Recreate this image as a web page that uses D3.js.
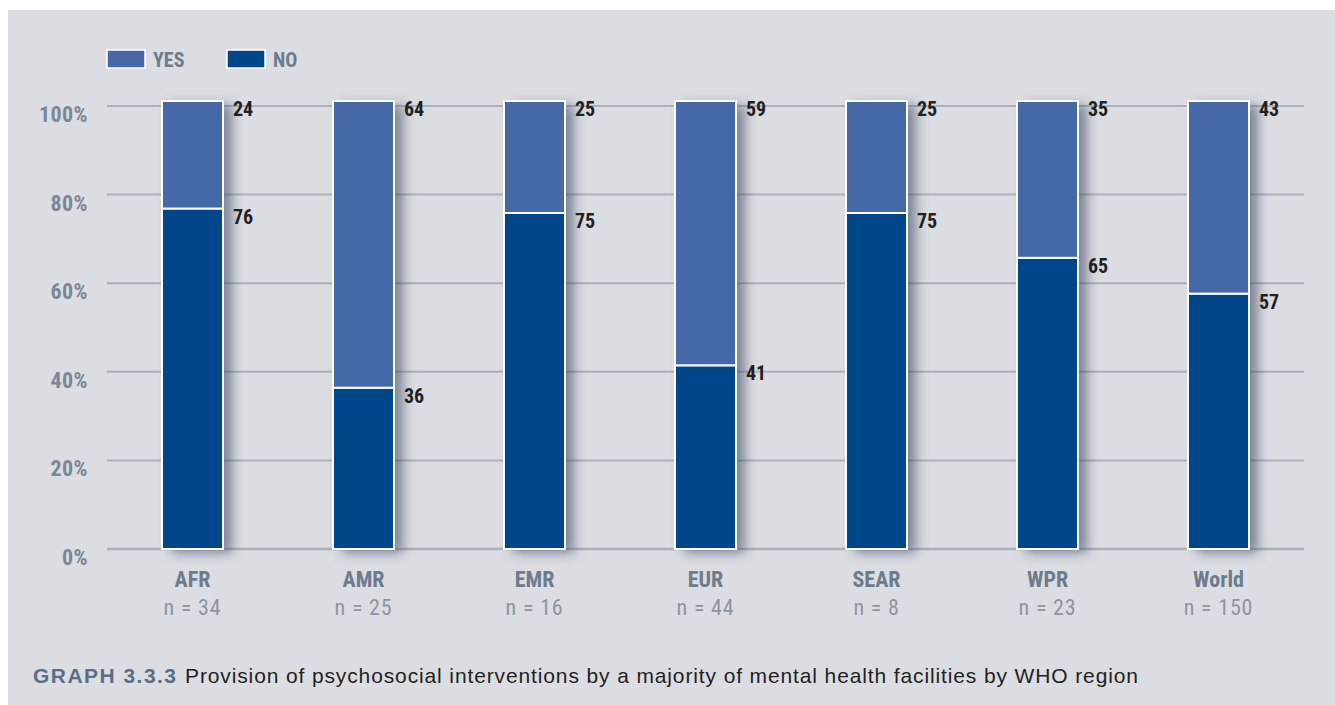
<!DOCTYPE html>
<html><head><meta charset="utf-8">
<script src="https://cdn.jsdelivr.net/npm/d3@7"></script>
<style>
html,body{margin:0;padding:0;background:#fff;}
svg{display:block;}
</style></head>
<body>
<svg id="chart" width="1335" height="705"></svg>
<script>
const categories = ["AFR","AMR","EMR","EUR","SEAR","WPR","World"];
const sampleSizes = ["n = 34","n = 25","n = 16","n = 44","n = 8","n = 23","n = 150"];
const noValues  = [76, 36, 75, 41, 75, 65, 57];
const yesValues = [24, 64, 25, 59, 25, 35, 43];
const seriesNames = ["YES","NO"];
const yTicks = [0,20,40,60,80,100];

const colors = {YES:"#4469a6", NO:"#00468b"};
const condensed = "'Liberation Sans Narrow','Roboto Condensed','Arial Narrow',sans-serif";
const svg = d3.select("#chart");

// panel
svg.append("rect").attr("x",8).attr("y",10).attr("width",1327).attr("height",695).attr("fill","#dcdde2");

const defs = svg.append("defs");
const f = defs.append("filter").attr("id","shadow").attr("x","-40%").attr("y","-10%").attr("width","200%").attr("height","130%");
f.append("feGaussianBlur").attr("in","SourceAlpha").attr("stdDeviation",6).attr("result","blur");
f.append("feOffset").attr("in","blur").attr("dx",9).attr("dy",4).attr("result","off");
f.append("feFlood").attr("flood-color","#2e3a58").attr("flood-opacity",0.55).attr("result","col");
f.append("feComposite").attr("in","col").attr("in2","off").attr("operator","in");

const x = d3.scaleBand().domain(categories).range([107,1304]).paddingInner(0.643).paddingOuter(0.3215);
const yAxisScale = d3.scaleLinear().domain([0,100]).range([549,106]);
const yBar = d3.scaleLinear().domain([0,100]).range([549,101]);

// gridlines
svg.append("g").selectAll("line").data(yTicks).join("line")
  .attr("x1",107).attr("x2",1304)
  .attr("y1",d=>yAxisScale(d)).attr("y2",d=>yAxisScale(d))
  .attr("stroke","#a9b1bb").attr("stroke-width",d=>d===0?2.5:2);

// y labels
svg.append("g").selectAll("text").data(yTicks).join("text")
  .attr("x",88).attr("y",d=>yAxisScale(d)+16)
  .attr("text-anchor","end")
  .attr("font-family",condensed).attr("font-size",22).attr("font-weight","bold")
  .attr("letter-spacing",0.4)
  .attr("fill","#7b8797").text(d=>d+"%");

// stacked data
const data = categories.map((c,i)=>({cat:c, NO:noValues[i], YES:yesValues[i]}));
const stack = d3.stack().keys(["NO","YES"]).offset(d3.stackOffsetExpand);
const series = stack(data);

const bw = x.bandwidth();
const gBars = svg.append("g");
// shadow layer
gBars.append("g").attr("filter","url(#shadow)").selectAll("rect").data(data).join("rect")
  .attr("x",d=>x(d.cat)).attr("y",yBar(100)).attr("width",bw).attr("height",yBar(0)-yBar(100))
  .attr("fill","#000");
series.forEach(s=>{
  gBars.append("g").selectAll("rect").data(s).join("rect")
    .attr("x",d=>x(d.data.cat)).attr("width",bw)
    .attr("y",d=>yBar(d[1]*100)).attr("height",d=>yBar(d[0]*100)-yBar(d[1]*100))
    .attr("fill",colors[s.key]).attr("stroke","#ffffff").attr("stroke-width",2);
});

// value labels
series.forEach(s=>{
  svg.append("g").selectAll("text").data(s).join("text")
    .attr("x",d=>x(d.data.cat)+bw+10)
    .attr("y",d=>yBar(d[1]*100)+15)
    .attr("font-family",condensed).attr("font-size",20).attr("font-weight","bold")
    .attr("fill","#231f20").text(d=>d.data[s.key]);
});

// category labels
const gCat = svg.append("g");
gCat.selectAll("text.cat").data(categories).join("text").attr("class","cat")
  .attr("x",d=>x(d)+bw/2).attr("y",587).attr("text-anchor","middle")
  .attr("font-family",condensed).attr("font-size",22).attr("font-weight","bold")
  .attr("fill","#6e7b8d").text(d=>d);
gCat.selectAll("text.n").data(categories).join("text").attr("class","n")
  .attr("x",d=>x(d)+bw/2).attr("y",615).attr("text-anchor","middle")
  .attr("font-family",condensed).attr("font-size",22).attr("letter-spacing",0.8)
  .attr("fill","#8c95a3").text((d,i)=>sampleSizes[i]);

// legend
const leg = svg.append("g");
const legX = [107,227];
seriesNames.forEach((n,i)=>{
  leg.append("rect").attr("x",legX[i]).attr("y",50).attr("width",38).attr("height",18)
    .attr("fill",colors[n]).attr("stroke","#fff").attr("stroke-width",1.5);
  leg.append("text").attr("x",legX[i]+46).attr("y",67)
    .attr("font-family",condensed).attr("font-size",20).attr("font-weight","bold")
    .attr("fill","#6e7b8d").text(n);
});

// caption
svg.append("text").attr("x",33).attr("y",683)
  .attr("font-family","'Liberation Sans',Arial,Helvetica,sans-serif").attr("font-size",21)
  .attr("font-weight","bold").attr("fill","#5b6e88")
  .attr("textLength",143).attr("lengthAdjust","spacing")
  .text("GRAPH 3.3.3");
svg.append("text").attr("x",185).attr("y",683)
  .attr("font-family","'Liberation Sans',Arial,Helvetica,sans-serif").attr("font-size",21)
  .attr("fill","#231f20")
  .attr("textLength",953).attr("lengthAdjust","spacing")
  .text("Provision of psychosocial interventions by a majority of mental health facilities by WHO region");
</script>
</body></html>
